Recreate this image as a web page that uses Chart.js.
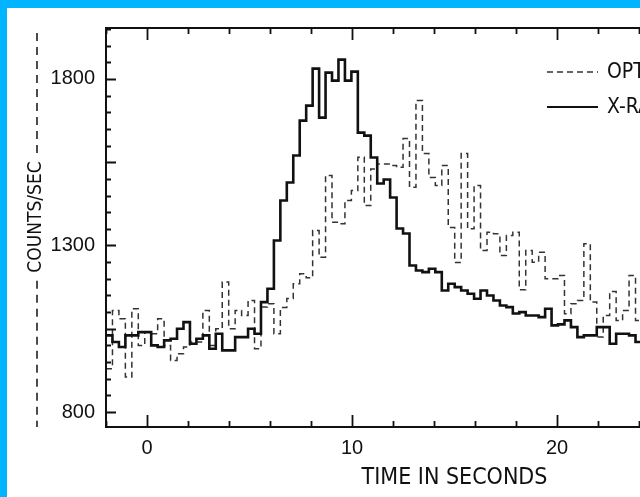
<!DOCTYPE html>
<html>
<head>
<meta charset="utf-8">
<script src="https://cdn.jsdelivr.net/npm/chart.js@4.4.1/dist/chart.umd.min.js"></script>
<style>
  html, body { margin: 0; padding: 0; background: #fff; width: 640px; height: 497px; overflow: hidden; }
  #wrap { position: absolute; left: 0; top: 0; width: 830px; height: 497px; }
  .edge { position: absolute; background: #00b4ff; z-index: 2; }
</style>
</head>
<body>
<div class="edge" style="left:0;top:0;width:640px;height:8px"></div>
<div class="edge" style="left:0;top:0;width:7px;height:497px"></div>
<div id="wrap"><canvas id="lightCurve" width="830" height="497"></canvas></div>
<script>
// histogram bins (seconds)
const binStart = -2.0;
const binWidth = 0.315;

// counts/sec per bin
const xray = [
  1030, 1010, 995, 1030, 1030, 1040, 1040, 1000, 995, 1015,
  1020, 1050, 1070, 1005, 1020, 1030, 990, 1035, 985, 985,
  1025, 1025, 1050, 1035, 1130, 1170, 1315, 1435, 1489, 1570,
  1675, 1720, 1831, 1684, 1819, 1795, 1858, 1795, 1822, 1639,
  1630, 1564, 1486, 1498, 1444, 1351, 1336, 1240, 1225, 1220,
  1230, 1220, 1165, 1185, 1175, 1165, 1155, 1140, 1165, 1150,
  1135, 1120, 1115, 1096, 1100, 1090, 1090, 1085, 1110, 1060,
  1063, 1075, 1055, 1025, 1030, 1030, 1055, 1055, 1005, 1035,
  1035, 1030, 1010, 1010
];
const optical = [
  930, 1105, 1080, 905, 1110, 1000, 1040, 1035, 1080, 1000,
  955, 975, 995, 1010, 1010, 1105, 1000, 1050, 1190, 1050,
  1105, 1090, 1135, 990, 1115, 1125, 1035, 1114, 1141, 1185,
  1215, 1203, 1345, 1265, 1510, 1370, 1365, 1435, 1465, 1565,
  1420, 1530, 1545, 1545, 1540, 1535, 1621, 1475, 1735, 1576,
  1504, 1480, 1540, 1354, 1249, 1576, 1350, 1480, 1285, 1340,
  1335, 1270, 1330, 1340, 1167, 1285, 1250, 1280, 1200, 1200,
  1210, 1095, 1125, 1135, 1305, 1130, 1025, 1090, 1162, 1075,
  1105, 1210, 1075, 1075
];

const seriesNames = ['X-RAY', 'OPTICAL'];
const xTickLabels = [0, 10, 20, 30];
const yTickLabels = [800, 1300, 1800];
const yMinorStep = 50;

const narrow = '"Liberation Sans Narrow", "Arial Narrow", "DejaVu Sans Condensed", sans-serif';
const plain = '"Liberation Sans", Arial, sans-serif';

function toSteps(vals) {
  const pts = vals.map((v, i) => ({ x: binStart + i * binWidth, y: v }));
  pts.push({ x: binStart + vals.length * binWidth, y: vals[vals.length - 1] });
  return pts;
}

// frame, inward ticks, y title with dashes, legend
const decor = {
  id: 'decor',
  afterDatasetsDraw(chart) {
    const { ctx, chartArea: a, scales: { x, y } } = chart;
    ctx.save();
    ctx.strokeStyle = '#111';
    ctx.lineWidth = 2;
    ctx.strokeRect(a.left, a.top, a.right - a.left, a.bottom - a.top);

    ctx.lineWidth = 1.8;
    ctx.beginPath();
    x.ticks.forEach(t => {
      const px = Math.round(x.getPixelForValue(t.value)) + 0.5;
      const len = t.value % 10 === 0 ? 12 : 6;
      ctx.moveTo(px, a.bottom); ctx.lineTo(px, a.bottom - len);
      ctx.moveTo(px, a.top); ctx.lineTo(px, a.top + len);
    });
    y.ticks.forEach(t => {
      const py = Math.round(y.getPixelForValue(t.value)) + 0.5;
      const len = (t.value - yTickLabels[0]) % 250 === 0 ? 10 : 5;
      ctx.moveTo(a.left, py); ctx.lineTo(a.left + len, py);
      ctx.moveTo(a.right, py); ctx.lineTo(a.right - len, py);
    });
    ctx.stroke();

    // y axis title between dashed lines
    const label = 'COUNTS/SEC';
    ctx.font = '19px ' + narrow;
    const w = ctx.measureText(label).width;
    const cx = 37, cy = 217;
    ctx.lineWidth = 1.5;
    ctx.setLineDash([8, 6]);
    ctx.beginPath();
    ctx.moveTo(cx, 33); ctx.lineTo(cx, cy - w / 2 - 8);
    ctx.moveTo(cx, cy + w / 2 + 8); ctx.lineTo(cx, a.bottom);
    ctx.stroke();
    ctx.setLineDash([]);
    ctx.save();
    ctx.translate(cx - 1, cy);
    ctx.rotate(-Math.PI / 2);
    ctx.fillStyle = '#111';
    ctx.textAlign = 'center';
    ctx.textBaseline = 'middle';
    ctx.fillText(label, 0, 0);
    ctx.restore();

    // legend
    const rows = [[1, 72], [0, 107]];
    ctx.font = '21px ' + narrow;
    ctx.textAlign = 'left';
    ctx.textBaseline = 'middle';
    rows.forEach(([di, ly]) => {
      const ds = chart.data.datasets[di];
      ctx.strokeStyle = ds.borderColor;
      ctx.lineWidth = di === 1 ? 1.6 : 2;
      ctx.setLineDash(ds.borderDash || []);
      ctx.beginPath();
      ctx.moveTo(547, ly); ctx.lineTo(598, ly);
      ctx.stroke();
      ctx.setLineDash([]);
      ctx.fillStyle = '#111';
      ctx.fillText(ds.label, 607, ly + 1);
    });
    ctx.restore();
  }
};

new Chart(document.getElementById('lightCurve'), {
  type: 'line',
  data: {
    datasets: [
      {
        label: seriesNames[0],
        data: toSteps(xray),
        stepped: 'before',
        borderColor: '#111',
        borderWidth: 2.6,
        pointRadius: 0,
        fill: false
      },
      {
        label: seriesNames[1],
        data: toSteps(optical),
        stepped: 'before',
        borderColor: '#333',
        borderWidth: 1.5,
        borderDash: [6, 4],
        pointRadius: 0,
        fill: false
      }
    ]
  },
  options: {
    responsive: false,
    animation: false,
    layout: { padding: { top: 28, right: 27, left: 0, bottom: 0 } },
    plugins: { legend: { display: false }, tooltip: { enabled: false } },
    scales: {
      x: {
        type: 'linear',
        min: -2,
        max: 32,
        grid: { display: false, drawTicks: false },
        border: { display: false },
        ticks: {
          stepSize: 2,
          autoSkip: false,
          maxRotation: 0,
          padding: 9,
          color: '#111',
          font: { family: plain, size: 20 },
          callback: v => xTickLabels.includes(v) ? String(v) : ''
        },
        title: {
          display: true,
          text: 'TIME IN SECONDS',
          color: '#111',
          font: { family: narrow, size: 23 },
          padding: { top: 0, bottom: 5 }
        },
        afterFit: s => { s.height = 70; }
      },
      y: {
        min: 755,
        max: 1953,
        grid: { display: false, drawTicks: false },
        border: { display: false },
        ticks: {
          autoSkip: false,
          padding: 11,
          color: '#111',
          font: { family: plain, size: 20 },
          callback: v => yTickLabels.includes(v) ? String(v) : ''
        },
        afterBuildTicks: s => {
          const ticks = [];
          for (let v = yTickLabels[0]; v <= s.max; v += yMinorStep) ticks.push({ value: v });
          s.ticks = ticks;
        },
        afterFit: s => { s.width = 106; }
      }
    }
  },
  plugins: [decor]
});
</script>
</body>
</html>
